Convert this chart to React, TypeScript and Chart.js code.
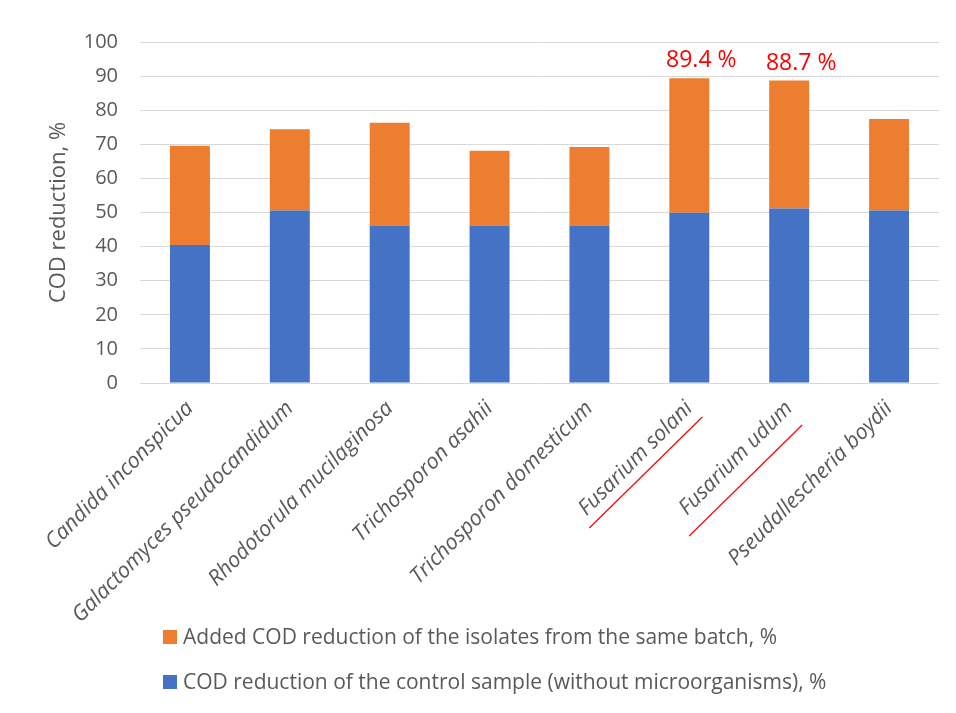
import React, { useEffect, useRef } from "react";
import { Chart, registerables } from "chart.js";

Chart.register(...registerables);

const categories = [
  "Candida inconspicua",
  "Galactomyces pseudocandidum",
  "Rhodotorula mucilaginosa",
  "Trichosporon asahii",
  "Trichosporon domesticum",
  "Fusarium solani",
  "Fusarium udum",
  "Pseudallescheria boydii",
];

// COD reduction of the control sample (without microorganisms), %
const controlReduction = [40.5, 50.6, 46.2, 46.2, 46.2, 49.9, 51.2, 50.6];

// Added COD reduction of the isolates from the same batch, %
const addedReduction = [29.1, 23.8, 30.1, 21.9, 23.0, 39.5, 37.5, 26.8];

// Totals called out above the best performing isolates
const calloutLabels = [null, null, null, null, null, "89.4 %", "88.7 %", null];

const yTicks = [0, 10, 20, 30, 40, 50, 60, 70, 80, 90, 100];

const seriesNames = [
  "COD reduction of the control sample (without microorganisms), %",
  "Added COD reduction of the isolates from the same batch, %",
];

const BLUE = "#4472C4";
const ORANGE = "#ED7D31";
const TEXT = "#595959";
const GRID = "#d9d9d9";
const FONT = "'Open Sans', 'Noto Sans', sans-serif";

// Red callouts above bars and red underlines below the highlighted names
const highlightPlugin = {
  id: "highlight",
  afterDatasetsDraw(chart: any) {
    const { ctx } = chart;
    const topMeta = chart.getDatasetMeta(1);
    ctx.save();
    ctx.fillStyle = "#ff0000";
    ctx.font = `23px ${FONT}`;
    ctx.textAlign = "center";
    ctx.textBaseline = "alphabetic";
    calloutLabels.forEach((lab, i) => {
      if (!lab) return;
      const bar = topMeta.data[i];
      ctx.fillText(lab, bar.x + 12, bar.y - 11);
    });
    ctx.restore();
  },
  afterDraw(chart: any) {
    const { ctx, chartArea } = chart;
    const xs = chart.scales.x;
    ctx.save();
    ctx.strokeStyle = "#ff0000";
    ctx.lineWidth = 1.2;
    calloutLabels.forEach((lab, i) => {
      if (!lab) return;
      const x = xs.getPixelForValue(i);
      const extra = i === 6 ? 8 : 0;
      ctx.beginPath();
      ctx.moveTo(x - 100, chartArea.bottom + 145 + extra);
      ctx.lineTo(x + 13, chartArea.bottom + 34 + extra);
      ctx.stroke();
    });
    ctx.restore();
  },
};

// Legend listed one entry per line, top series first
const legendPlugin = {
  id: "stackedLegend",
  afterDraw(chart: any) {
    const { ctx } = chart;
    const rows = [
      { color: ORANGE, text: seriesNames[1] },
      { color: BLUE, text: seriesNames[0] },
    ];
    ctx.save();
    ctx.font = `21px ${FONT}`;
    ctx.textBaseline = "middle";
    ctx.textAlign = "left";
    rows.forEach((r, k) => {
      const cy = 629 + k * 45;
      ctx.fillStyle = r.color;
      ctx.fillRect(155, cy - 7, 14, 14);
      ctx.fillStyle = TEXT;
      ctx.fillText(r.text, 175, cy + 1);
    });
    ctx.restore();
  },
};

export default function App() {
  const canvasRef = useRef<HTMLCanvasElement | null>(null);

  useEffect(() => {
    if (!canvasRef.current) return;
    const chart = new Chart(canvasRef.current, {
      type: "bar",
      data: {
        labels: categories,
        datasets: [
          {
            label: seriesNames[0],
            data: controlReduction,
            backgroundColor: BLUE,
            categoryPercentage: 1,
            barPercentage: 0.4,
          },
          {
            label: seriesNames[1],
            data: addedReduction,
            backgroundColor: ORANGE,
            categoryPercentage: 1,
            barPercentage: 0.4,
          },
        ],
      },
      options: {
        animation: false,
        responsive: false,
        maintainAspectRatio: false,
        layout: { padding: { left: 0, right: 9, top: 34, bottom: 0 } },
        plugins: {
          legend: { display: false },
          tooltip: { enabled: false },
        },
        scales: {
          x: {
            stacked: true,
            grid: { display: false, drawTicks: false },
            border: { display: false },
            ticks: {
              color: TEXT,
              font: { family: FONT, size: 21.5, style: "italic" },
              minRotation: 45,
              maxRotation: 45,
              padding: 13,
              autoSkip: false,
            },
            afterFit(scale: any) {
              scale.height = 322;
            },
          },
          y: {
            stacked: true,
            min: 0,
            max: 100,
            afterBuildTicks(scale: any) {
              scale.ticks = yTicks.map((v) => ({ value: v }));
            },
            grid: { color: GRID, lineWidth: 1, drawTicks: false },
            border: { display: false },
            ticks: {
              color: TEXT,
              font: { family: FONT, size: 20 },
              padding: 22,
            },
            title: {
              display: true,
              text: "COD reduction, %",
              color: TEXT,
              font: { family: FONT, size: 22 },
              padding: { top: 38, bottom: 0 },
            },
            afterFit(scale: any) {
              scale.width = 132;
            },
          },
        },
      },
      plugins: [highlightPlugin, legendPlugin],
    });
    return () => chart.destroy();
  }, []);

  return (
    <div style={{ position: "relative", width: 940, height: 697, overflow: "hidden" }}>
      <div
        style={{
          position: "absolute",
          left: -1,
          top: -2,
          width: 980,
          height: 740,
          border: `1px solid ${GRID}`,
          boxSizing: "border-box",
        }}
      />
      <canvas ref={canvasRef} width={940} height={697} style={{ position: "relative", display: "block" }} />
    </div>
  );
}
